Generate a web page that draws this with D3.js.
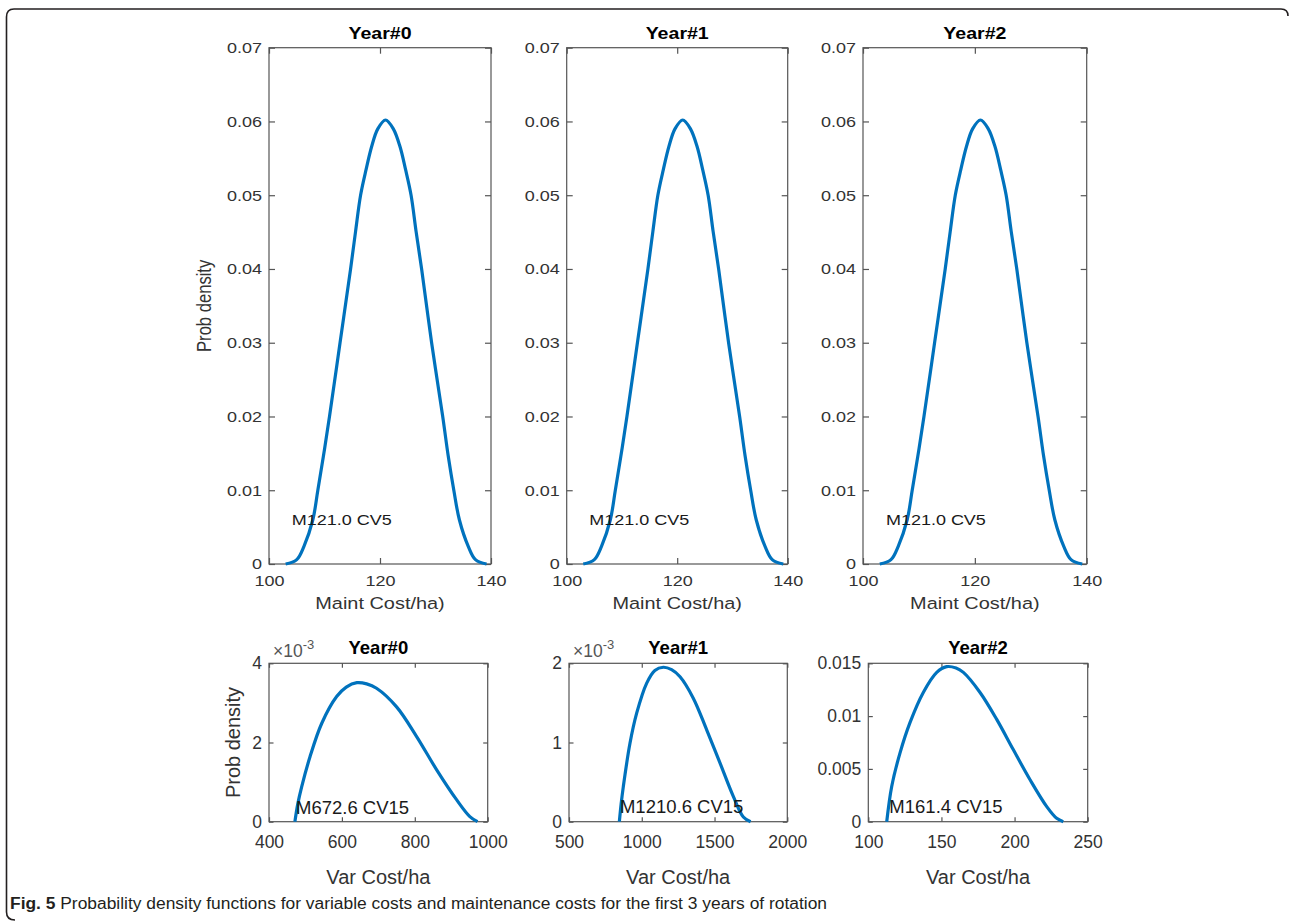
<!DOCTYPE html>
<html>
<head>
<meta charset="utf-8">
<script src="https://cdn.jsdelivr.net/npm/d3@7"></script>
<style>
body { margin: 0; background: #fff; }
text { font-family: "Liberation Sans", Arial, Helvetica, sans-serif; }
</style>
</head>
<body>
<div id="fig"></div>
<script>
// maintenance cost pdf (same curve for the three years)
const maintX = [103.0, 105.0, 106.3, 107.9, 108.8, 109.8, 110.9, 112.8, 114.7, 115.6, 116.5, 117.5, 118.5, 119.6, 121.0, 122.4, 123.6, 124.6, 125.6, 126.5, 127.5, 129.3, 131.3, 132.3, 133.3, 134.3, 135.9, 137.2, 139.2];
const maintY = [0, 0.0006, 0.0024, 0.0060, 0.0100, 0.0146, 0.0200, 0.0300, 0.0400, 0.0451, 0.0500, 0.0535, 0.0566, 0.0590, 0.0602, 0.0590, 0.0566, 0.0535, 0.0500, 0.0451, 0.0400, 0.0300, 0.0200, 0.0146, 0.0100, 0.0060, 0.0024, 0.0006, 0];

// variable cost pdfs
const varX0 = [471, 479, 489.6, 512.5, 544.5, 585.6, 612, 641, 668, 695, 750, 805, 860, 915, 951, 972];
const varY0 = [0, 0.00045, 0.00088, 0.00164, 0.00248, 0.00316, 0.00340, 0.00351, 0.00348, 0.00337, 0.00290, 0.00215, 0.00131, 0.00055, 0.00013, 0];
const varX1 = [846, 858, 873, 919, 965, 1034, 1090, 1148, 1205, 1263, 1354, 1446, 1538, 1629, 1698, 1748];
const varY1 = [0, 0.00022, 0.00044, 0.00099, 0.00137, 0.00175, 0.00191, 0.00195, 0.00192, 0.00183, 0.00156, 0.00116, 0.00074, 0.00032, 0.00006, 0];
const varX2 = [112.6, 116, 121.7, 128.5, 137.6, 146.8, 153.6, 160, 165, 176.4, 187.8, 199.1, 210.6, 222, 228.8, 233.3];
const varY2 = [0, 0.00334, 0.00652, 0.00938, 0.01224, 0.01414, 0.01468, 0.01455, 0.01414, 0.01224, 0.00969, 0.00683, 0.00397, 0.00143, 0.00032, 0];

const years = ["Year#0", "Year#1", "Year#2"];
const maintNotes = ["M121.0 CV5", "M121.0 CV5", "M121.0 CV5"];
const varNotes = ["M672.6 CV15", "M1210.6 CV15", "M161.4 CV15"];
const varNoteAt = [[474, 0.00035], [850, 0.00019], [114.4, 0.00146]];

const maintTicksX = [100, 120, 140];
const maintTicksY = [0, 0.01, 0.02, 0.03, 0.04, 0.05, 0.06, 0.07];
const varTicksX = [[400, 600, 800, 1000], [500, 1000, 1500, 2000], [100, 150, 200, 250]];
const varTicksY = [[0, 0.002, 0.004], [0, 0.001, 0.002], [0, 0.005, 0.01, 0.015]];
const varDomX = [[400, 1000], [500, 2000], [100, 250]];
const varDomY = [[0, 0.004], [0, 0.002], [0, 0.015]];

const caption = "Probability density functions for variable costs and maintenance costs for the first 3 years of rotation";

const W = 1289, H = 923;
const blue = "#0072BD", axisCol = "#555", tickCol = "#333";

const svg = d3.select("#fig").append("svg")
    .attr("width", W)
    .attr("height", H);

// page frame
svg.append("path")
    .attr("d", "M1288,16 Q1288,9 1281,9 L14,9 Q6.5,9 6.5,17 L6.5,912 Q6.5,920 15,920")
    .attr("fill", "none")
    .attr("stroke", "#231f20")
    .attr("stroke-width", 1.6);

function label(g, x, y, str, o) {
    return g.append("text")
        .attr("transform", `translate(${x},${y}) scale(${o.sx || 1},1)${o.rot ? " rotate(-90)" : ""}`)
        .attr("text-anchor", o.anchor || "middle")
        .attr("font-size", o.fs)
        .attr("font-weight", o.bold ? "bold" : null)
        .attr("fill", o.fill || tickCol)
        .text(str);
}

function panel(p) {
    const x = d3.scaleLinear().domain(p.xDomain).range([p.x0, p.x1]);
    const y = d3.scaleLinear().domain(p.yDomain).range([p.y1, p.y0]);
    const g = svg.append("g");
    const sx = p.sx;

    g.append("g").attr("transform", `translate(0,${p.y1})`)
        .call(d3.axisBottom(x).tickValues(p.xTicks).tickSize(-p.tick).tickPadding(p.xPad).tickFormat(d3.format("d")));
    g.append("g").attr("transform", `translate(0,${p.y0})`)
        .call(d3.axisTop(x).tickValues(p.xTicks).tickSize(-p.tick).tickFormat(""));
    g.append("g").attr("transform", `translate(${p.x0},0)`)
        .call(d3.axisLeft(y).tickValues(p.yTicks).tickSize(-p.tick).tickPadding(p.yPad).tickFormat(p.yFmt))
        .selectAll("text").attr("x", -p.yPad / sx);
    g.append("g").attr("transform", `translate(${p.x1},0)`)
        .call(d3.axisRight(y).tickValues(p.yTicks).tickSize(-p.tick).tickFormat(""));

    g.selectAll(".domain").remove();
    g.selectAll(".tick line").attr("stroke", axisCol).attr("stroke-width", 1.2);
    g.selectAll(".tick text")
        .attr("fill", tickCol)
        .attr("font-size", p.tickFs)
        .attr("font-family", "Liberation Sans, Arial, sans-serif")
        .attr("transform", `scale(${sx},1)`);

    g.append("rect")
        .attr("x", p.x0).attr("y", p.y0)
        .attr("width", p.x1 - p.x0).attr("height", p.y1 - p.y0)
        .attr("fill", "none").attr("stroke", axisCol).attr("stroke-width", 1.2);

    const line = d3.line()
        .x(i => x(p.X[i]))
        .y(i => Math.min(y(p.Y[i]), p.y1))
        .curve(d3.curveCatmullRom.alpha(0.5));
    g.append("path")
        .datum(d3.range(p.X.length))
        .attr("d", line)
        .attr("fill", "none")
        .attr("stroke", blue)
        .attr("stroke-width", 3.2)
        .attr("stroke-linejoin", "round");

    label(g, x(p.noteX), y(p.noteY), p.note, { fs: p.noteFs, anchor: "start", sx: sx, fill: "#1a1a1a" })
        .attr("dy", "0.35em");

    const cx = (p.x0 + p.x1) / 2;
    label(g, cx, p.titleY, p.title, { fs: p.titleFs, bold: true, sx: sx, fill: "#000" });
    label(g, cx, p.xlabY, p.xlabel, { fs: p.labFs, sx: sx });
    if (p.ylabel) label(g, p.ylabX, (p.y0 + p.y1) / 2, p.ylabel, { fs: p.labFs, sx: sx, rot: true });

    if (p.exponent) {
        const t = g.append("text")
            .attr("x", p.x0 + 4).attr("y", p.y0 - 6)
            .attr("font-size", p.tickFs)
            .attr("fill", "#555")
            .text("\u00d710");
        t.append("tspan").attr("dy", -8).attr("font-size", 13).text("-3");
    }
}

// top row: maintenance cost
const topX = [[269, 491], [566.7, 787.7], [863, 1086.7]];
years.forEach((yr, k) => {
    panel({
        x0: topX[k][0], x1: topX[k][1], y0: 47.7, y1: 564,
        xDomain: [100, 140], yDomain: [0, 0.07],
        xTicks: maintTicksX, yTicks: maintTicksY,
        yFmt: d => d === 0 ? "0" : d.toFixed(2),
        X: maintX, Y: maintY,
        note: maintNotes[k], noteX: 104.1, noteY: 0.0060,
        title: yr, xlabel: "Maint Cost/ha)", ylabel: k === 0 ? "Prob density" : null,
        sx: 1.2, tick: 6, xPad: 11, yPad: 7,
        tickFs: 15, noteFs: 15, titleFs: 16.3, labFs: 16.6,
        titleY: 39, xlabY: 609, ylabX: 211
    });
});

// bottom row: variable cost
const botX = [[269, 487.7], [569, 787.3], [868.3, 1087.7]];
years.forEach((yr, k) => {
    panel({
        x0: botX[k][0], x1: botX[k][1], y0: 663.3, y1: 821.7,
        xDomain: varDomX[k], yDomain: varDomY[k],
        xTicks: varTicksX[k], yTicks: varTicksY[k],
        yFmt: k < 2 ? (d => String(Math.round(d * 1000))) : (d => String(+d.toFixed(4))),
        X: [varX0, varX1, varX2][k], Y: [varY0, varY1, varY2][k],
        note: varNotes[k], noteX: varNoteAt[k][0], noteY: varNoteAt[k][1],
        title: yr, xlabel: "Var Cost/ha", ylabel: k === 0 ? "Prob density" : null,
        exponent: k < 2,
        sx: 1, tick: 4.5, xPad: 14, yPad: 7,
        tickFs: 17.5, noteFs: 18.5, titleFs: 18.5, labFs: 20,
        titleY: 654, xlabY: 884, ylabX: 240
    });
});

// caption
const cap = svg.append("text")
    .attr("x", 10).attr("y", 909)
    .attr("font-size", 16)
    .attr("fill", "#231f20")
    .attr("textLength", 817)
    .attr("lengthAdjust", "spacingAndGlyphs");
cap.append("tspan").attr("font-weight", "bold").text("Fig. 5");
cap.append("tspan").text(" " + caption);
</script>
</body>
</html>
